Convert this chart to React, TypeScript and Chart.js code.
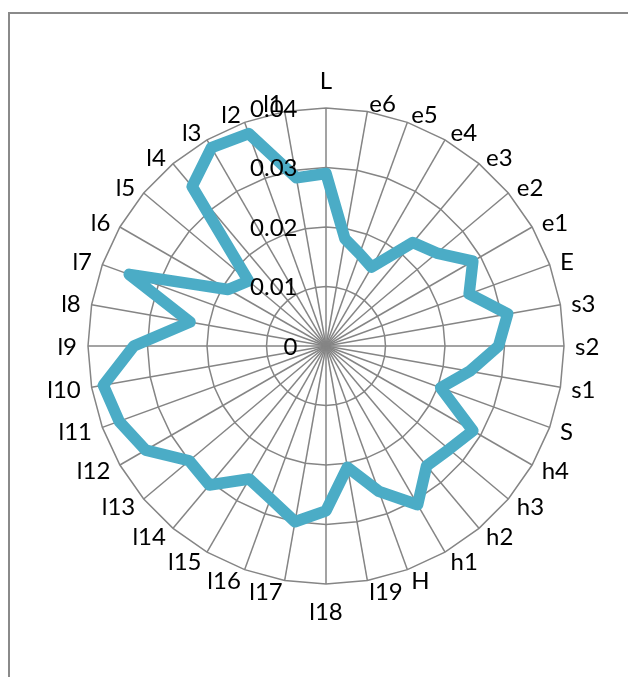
import React, { useEffect, useRef } from "react";
import { Chart, registerables } from "chart.js";

Chart.register(...registerables);

const categories = ["L", "e6", "e5", "e4", "e3", "e2", "e1", "E", "s3", "s2", "s1", "S", "h4", "h3", "h2", "h1", "H", "l19", "l18", "l17", "l16", "l15", "l14", "l13", "l12", "l11", "l10", "l9", "l8", "l7", "l6", "l5", "l4", "l3", "l2", "l1"];
const seriesValues = [0.029, 0.0183, 0.0165, 0.0153, 0.0227, 0.0243, 0.0285, 0.0256, 0.031, 0.029, 0.0245, 0.0205, 0.0285, 0.027, 0.0263, 0.0308, 0.026, 0.0207, 0.0277, 0.03, 0.0273, 0.0258, 0.0305, 0.03, 0.035, 0.037, 0.038, 0.0323, 0.0232, 0.0352, 0.019, 0.017, 0.035, 0.0385, 0.038, 0.0287];
const tickValues = [0, 0.01, 0.02, 0.03, 0.04];
const tickLabels = ["0", "0.01", "0.02", "0.03", "0.04"];

const FONT = "Lato";
const FONT_SIZE = 24;
const HALF_CAP = 8.6;

const framePlugin = {
  id: "frame",
  beforeDraw(chart: any) {
    const ctx = chart.ctx;
    ctx.save();
    ctx.strokeStyle = "#8a8a8a";
    ctx.lineWidth = 2;
    ctx.strokeRect(9, 13, 800, 800);
    ctx.restore();
  },
};

const labelPlugin = {
  id: "labelText",
  afterDatasetsDraw(chart: any) {
    const s = chart.scales.r;
    const ctx = chart.ctx;
    ctx.save();
    ctx.font = `${FONT_SIZE}px ${FONT}`;
    ctx.fillStyle = "#000";
    ctx.textBaseline = "alphabetic";
    categories.forEach((lab, i) => {
      const a = s.getIndexAngle(i);
      const sn = Math.sin(a);
      const cs = Math.cos(a);
      const p = s.getPointPosition(i, s.drawingArea);
      let x = p.x + 11 * sn;
      let yc: number;
      if (Math.abs(sn) < 1e-6) {
        ctx.textAlign = "center";
        x = p.x;
        yc = p.y - Math.sign(cs) * 27.2;
      } else {
        ctx.textAlign = sn > 0 ? "left" : "right";
        yc = p.y - cs * (cs > 0 ? HALF_CAP : 11);
      }
      ctx.fillText(lab, x, yc + HALF_CAP);
    });
    ctx.textAlign = "right";
    tickValues.forEach((v, i) => {
      const d = s.getDistanceFromCenterForValue(v);
      ctx.fillText(tickLabels[i], s.xCenter - 28.5, s.yCenter - d + HALF_CAP);
    });
    ctx.restore();
  },
};

export default function App() {
  const ref = useRef<HTMLCanvasElement>(null);
  useEffect(() => {
    if (!ref.current) return;
    const chart = new Chart(ref.current, {
      type: "radar",
      data: {
        labels: categories,
        datasets: [
          {
            data: seriesValues,
            borderColor: "#4BACC6",
            backgroundColor: "#4BACC6",
            borderWidth: 11.5,
            borderJoinStyle: "round",
            pointRadius: 0,
            fill: false,
            tension: 0,
          },
        ],
      },
      options: {
        animation: false,
        responsive: false,
        layout: { padding: { left: 88, right: 63, top: 108, bottom: 92 } },
        plugins: { legend: { display: false }, tooltip: { enabled: false } },
        scales: {
          r: {
            min: 0,
            max: 0.04,
            ticks: { stepSize: 0.01, display: false },
            grid: { color: "#858585", lineWidth: 1.5 },
            angleLines: { color: "#858585", lineWidth: 1.5 },
            pointLabels: { display: false },
          },
        },
      },
      plugins: [framePlugin, labelPlugin],
    });
    return () => chart.destroy();
  }, []);
  return (
    <canvas
      ref={ref}
      width={628}
      height={677}
      style={{ position: "fixed", left: 0, top: 0, width: 628, height: 677 }}
    />
  );
}
